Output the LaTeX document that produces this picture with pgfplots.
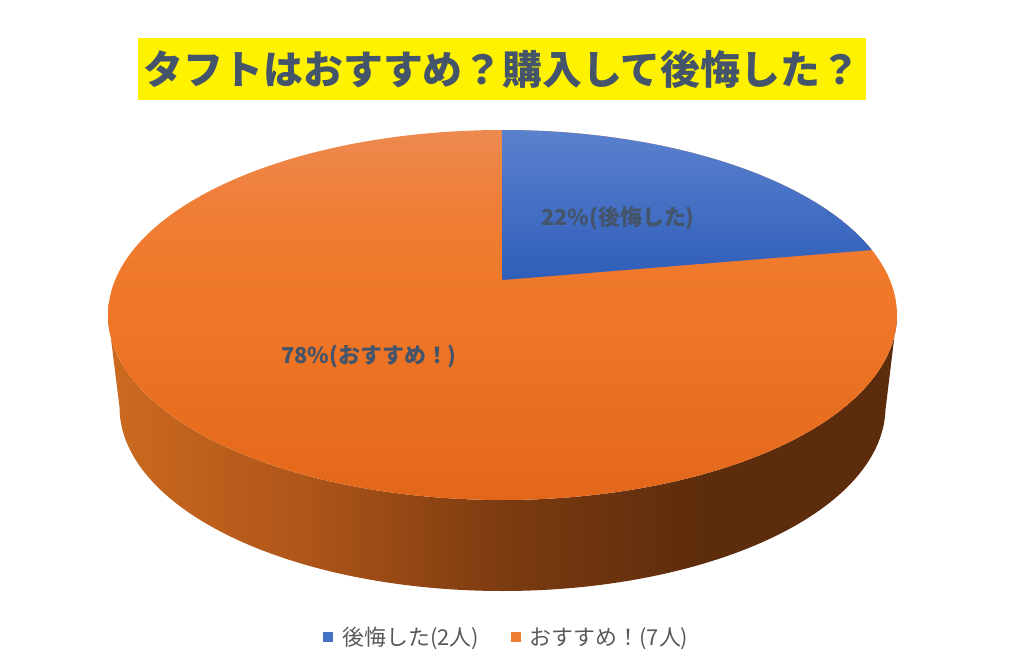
\documentclass[border=0pt]{standalone}
\usepackage{pgfplots}
\pgfplotsset{compat=1.18}
\usepackage{pgfplotstable}
\usepackage{fontspec}
\newfontfamily\cjk{Noto Sans CJK JP}
\definecolor{titlecol}{HTML}{44546A}
\definecolor{labelcol}{HTML}{44546A}
\definecolor{legcol}{HTML}{595959}
\definecolor{legblue}{HTML}{4472C4}
\definecolor{legorange}{HTML}{ED7D31}
\definecolor{blueT}{HTML}{5A81CE}
\definecolor{blueB}{HTML}{2F5EB9}
\definecolor{oA}{HTML}{ED8A50}
\definecolor{oB}{HTML}{EF7E38}
\definecolor{oC}{HTML}{F07A2C}
\definecolor{oD}{HTML}{EE7626}
\definecolor{oE}{HTML}{E3671A}
\definecolor{sA}{HTML}{CC6A20}
\definecolor{sB}{HTML}{B0561A}
\definecolor{sC}{HTML}{7C3B10}
\definecolor{sD}{HTML}{5C2C0C}
\pgfdeclarehorizontalshading{side}{100bp}{color(0bp)=(sA); color(25bp)=(sA); color(37bp)=(sB); color(50bp)=(sC); color(63bp)=(sD); color(75bp)=(sD); color(100bp)=(sD)}
\pgfdeclareverticalshading{topface}{100bp}{color(0bp)=(oE); color(25bp)=(oE); color(48bp)=(oD); color(57bp)=(oC); color(65bp)=(oB); color(75bp)=(oA); color(100bp)=(oA)}

\pgfplotstableread{
count
2
7
}\piedata

% geometry of the projected pie (pixel-like units, y up)
\def\cx{502.5}
\def\cyT{349}\def\rxT{394.5}\def\ryT{185}
\def\cyB{257}\def\rxB{383}\def\ryB{184}
\def\pcy{384}
\def\pa{0.0954}

\begin{document}%
\begin{tikzpicture}
\pgfplotstablegetelem{0}{count}\of\piedata \let\cA\pgfplotsretval
\pgfplotstablegetelem{1}{count}\of\piedata \let\cB\pgfplotsretval
\pgfmathsetmacro\thetaEnd{90-360*\cA/(\cA+\cB)}
\pgfmathsetmacro\phiEnd{atan2(2*\pa+(1+\pa*\pa)*sin(\thetaEnd),(1-\pa*\pa)*cos(\thetaEnd))}
\pgfmathtruncatemacro\pA{round(100*\cA/(\cA+\cB))}
\pgfmathtruncatemacro\pB{round(100*\cB/(\cA+\cB))}
\begin{axis}[
  scale only axis, width=1024bp, height=664bp,
  xmin=0, xmax=1024, ymin=0, ymax=664,
  hide axis, clip=false,
  legend image code/.code={\fill[#1,draw=none] (0bp,-5bp) rectangle (10bp,5bp); \path[draw=none,fill=none] (17bp,0bp);},
  legend style={at={(0.495,0.0407)}, anchor=center, draw=none, fill=none,
    legend columns=2, font=\cjk\fontsize{22}{26}\selectfont, text=legcol,
    /tikz/every even column/.append style={column sep=30bp}},
  legend cell align=left,
]
\path (axis cs:0,0) rectangle (axis cs:1024,664);
% side wall
\addplot[draw=none, shading=side, domain=180:540, samples=361, forget plot]
  ({ifthenelse(x<=360, \cx+\rxT*cos(x), \cx+\rxB*cos(720-x))},
   {ifthenelse(x<=360, \cyT+\ryT*sin(x), \cyB+\ryB*sin(720-x))}) -- cycle;
% top face (orange slice underneath)
\addplot[draw=none, shading=topface, domain=0:360, samples=241, forget plot]
  ({\cx+\rxT*cos(x)},{\cyT+\ryT*sin(x)}) -- cycle;
% blue slice
\addplot[draw=none, top color=blueT, bottom color=blueB, domain=\phiEnd:90, samples=100, forget plot]
  ({\cx+\rxT*cos(x)},{\cyT+\ryT*sin(x)}) -- (axis cs:\cx,\pcy) -- cycle;

\addlegendimage{fill=legblue}
\addlegendentry{後悔した(\cA 人)}
\addlegendimage{fill=legorange}
\addlegendentry{おすすめ！(\cB 人)}

\node[font=\cjk\bfseries\fontsize{22}{26}\selectfont, text=labelcol] at (axis cs:618,446) {\pA\%(後悔した)};
\node[font=\cjk\bfseries\fontsize{22}{26}\selectfont, text=labelcol] at (axis cs:369,307) {\pB\%(おすすめ！)};

\fill[yellow] (axis cs:138,626) rectangle (axis cs:866,564);
\node[font=\cjk\bfseries\fontsize{40}{44}\selectfont, text=titlecol] at (axis cs:502,595) {タフトはおすすめ？購入して後悔した？};
\end{axis}
\end{tikzpicture}%
\end{document}
